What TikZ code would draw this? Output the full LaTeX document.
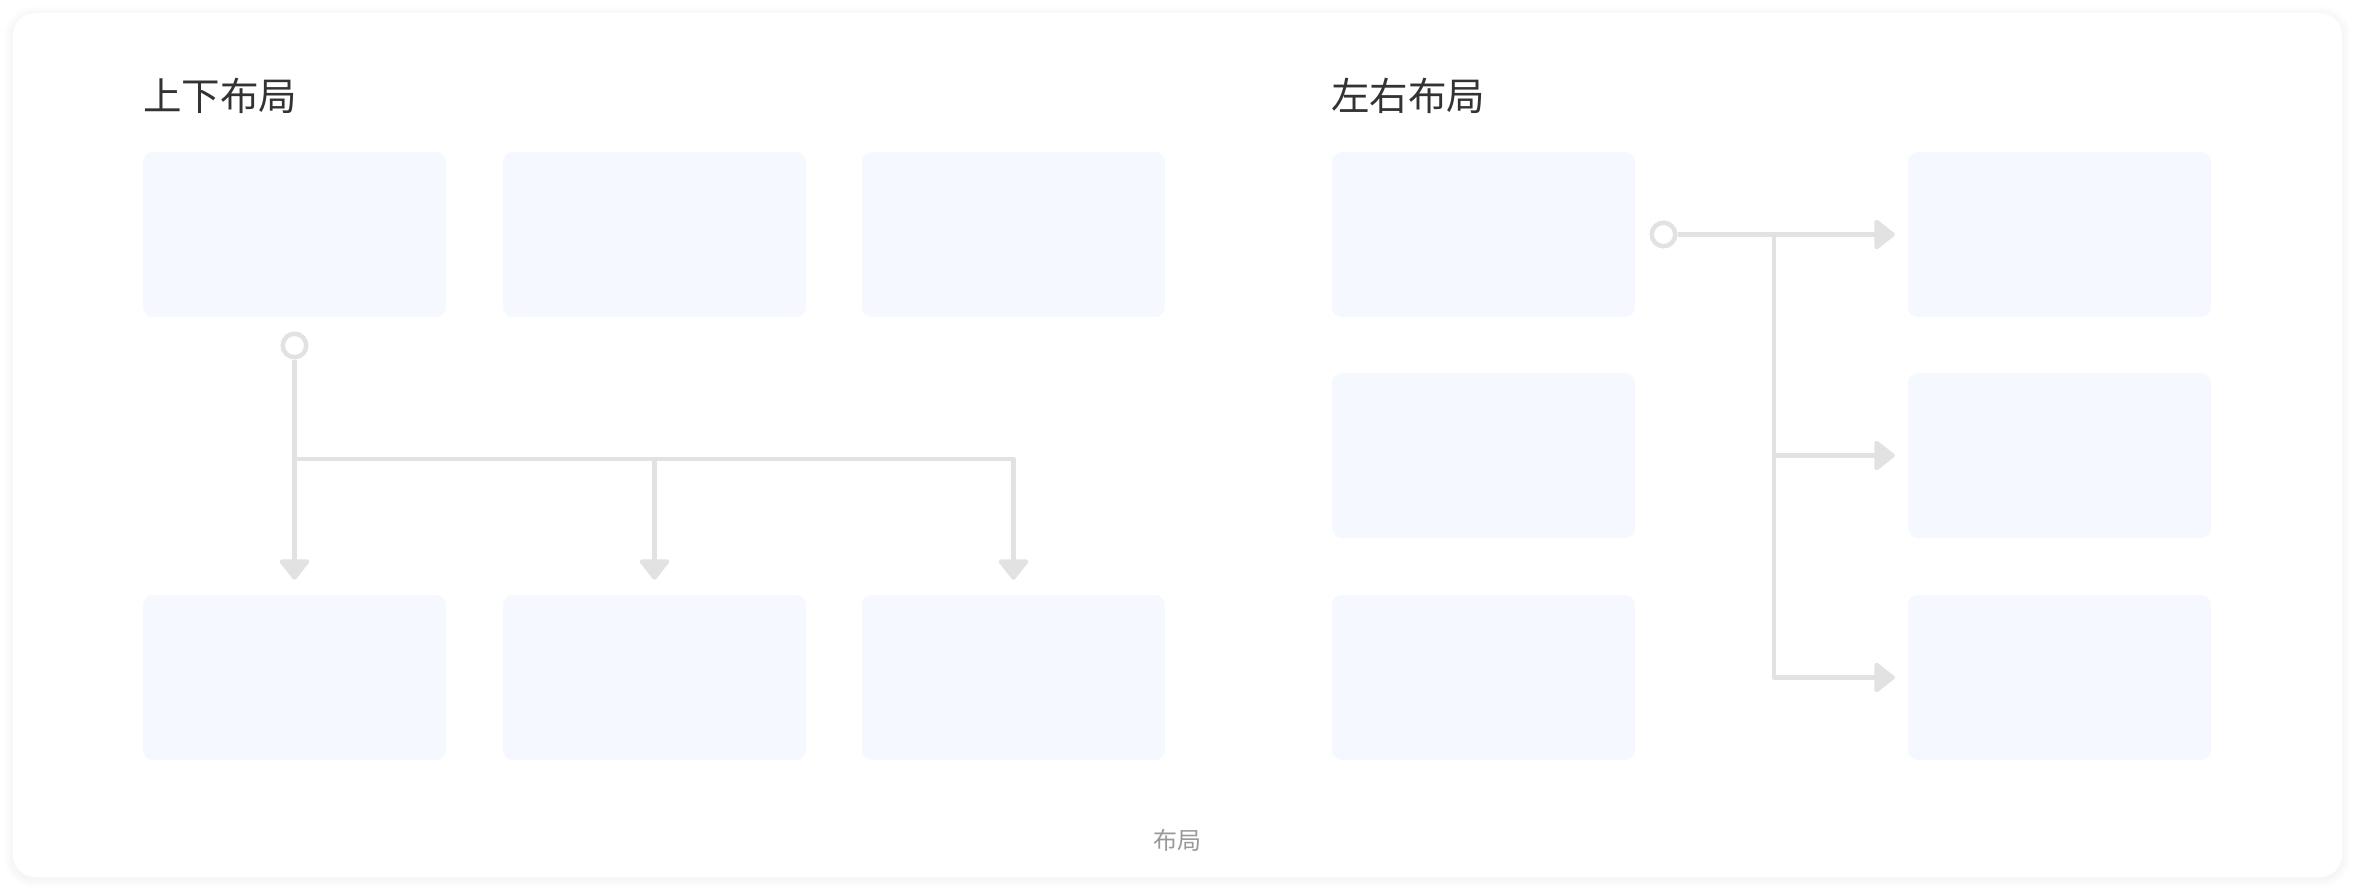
\documentclass[tikz,border=0pt]{standalone}
\usepackage{fontspec}
\setmainfont{Noto Sans CJK SC}
\usepackage{xcolor}
\usetikzlibrary{arrows.meta, calc, positioning}
\definecolor{cardshade}{HTML}{B0B0B0}
\definecolor{slotfill}{HTML}{F5F8FE}
\definecolor{linkgray}{HTML}{E2E2E2}
\definecolor{headgray}{HTML}{333333}
\definecolor{notegray}{HTML}{999999}
\tikzset{slot/.style={fill=slotfill, rounded corners=10pt, minimum width=303pt, minimum height=165pt, inner sep=0pt}}
\tikzset{knob/.style={draw=linkgray, circle, line width=4.5pt, minimum size=23.5pt, inner sep=0pt, fill=white}}
\tikzset{link/.style={draw=linkgray, line width=4.5pt, line join=round, -{Triangle[length=22pt, width=33pt, round]}}}
\tikzset{heading/.style={font=\fontsize{38.5}{44}\selectfont, text=headgray, inner sep=0pt, anchor=west}}

\begin{document}
\begin{tikzpicture}[x=1pt, y=-1pt]
        \useasboundingbox (0,0) rectangle (2356,894);
        \fill[white] (0,0) rectangle (2356,894);
        \foreach \i in {1,...,9}
            \fill[cardshade, opacity=0.012, rounded corners=22pt+\i pt] (13-\i,13-\i+2) rectangle (2342+\i,877+\i+2);
        \fill[white, rounded corners=22pt] (13,13) rectangle (2342,877);

        \node[heading] (Hud) at (143, 96) {上下布局};
        \node[heading] (Hlr) at (1331, 96) {左右布局};

        \node[slot] (U1) at (294.5, 234.5) {};
        \node[slot] (U2) at (654.5, 234.5) {};
        \node[slot] (U3) at (1013.5, 234.5) {};
        \node[slot] (D1) at (294.5, 677.5) {};
        \node[slot] (D2) at (654.5, 677.5) {};
        \node[slot] (D3) at (1013.5, 677.5) {};

        \node[slot] (L1) at (1483.5, 234.5) {};
        \node[slot] (L2) at (1483.5, 455.5) {};
        \node[slot] (L3) at (1483.5, 677.5) {};
        \node[slot] (R1) at (2059.5, 234.5) {};
        \node[slot] (R2) at (2059.5, 455.5) {};
        \node[slot] (R3) at (2059.5, 677.5) {};

        \node[knob] (Kud) at (294.5, 345.5) {};
        \coordinate (Jud) at (294.5, 459);
        \draw [link, shorten >=15pt] (Kud) -- (D1);
        \draw [link, shorten >=15pt] (Jud) -| (D3);
        \draw [link, shorten >=15pt] (Jud -| D2) -- (D2);

        \node[knob] (Klr) at (1663.5, 234.5) {};
        \coordinate (Jlr) at (1774, 234.5);
        \draw [link, shorten >=13pt] (Klr) -- (R1);
        \draw [link, shorten >=13pt] (Jlr) |- (R3);
        \draw [link, shorten >=13pt] (Jlr |- R2) -- (R2);

        \node[font=\fontsize{24}{28}\selectfont, text=notegray, inner sep=0pt] (Cap) at (1177, 840) {布局};
    \end{tikzpicture}
\end{document}
